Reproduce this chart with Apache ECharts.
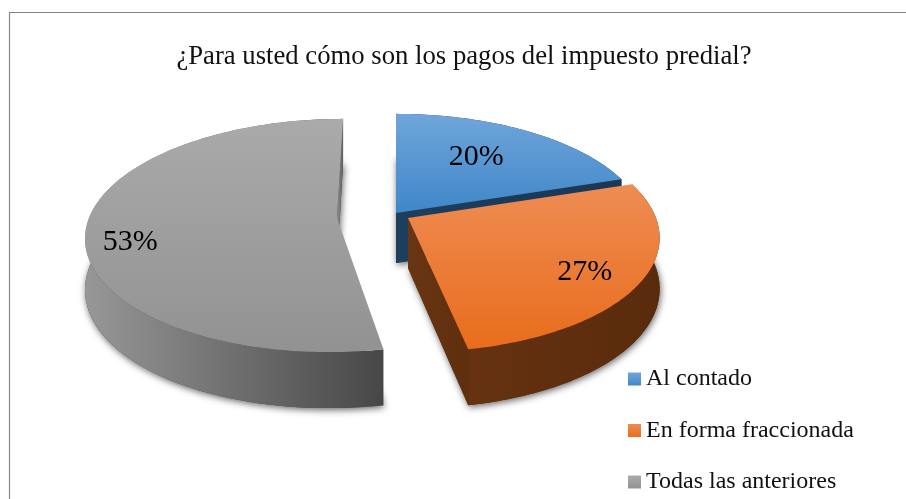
<!DOCTYPE html>
<html><head><meta charset="utf-8">
<style>html,body{margin:0;padding:0;background:#fff}#c{width:906px;height:499px}</style>
<script src="https://cdn.jsdelivr.net/npm/echarts@6/dist/echarts.min.js"></script>
</head><body><div id="c"></div>
<script>
const titleText = '¿Para usted cómo son los pagos del impuesto predial?';
const categories = ['Al contado', 'En forma fraccionada', 'Todas las anteriores'];
const values = [20, 27, 53];

// layout of the exploded slices and their styles (no data)
const apex = [[396, 213], [408, 218], [337, 218]];
const skew = [0, -5, 7];
const labelR = [0.59, 0.77, 0.825];
const labelDy = [-5, 7, 15];
const faceCols = [['#70a5da', '#3f87c9'], ['#ee8c54', '#e96c1b'], ['#aaaaaa', '#929292']];
const wallCols = [['#1b3a58', '#1b3a58'], ['#663211', '#592b0c'], ['#979797', '#474747']];
const innerCols = [['#1e3e5e', '#1a3853'], ['#6a3512', '#5f2f0e'], ['#8e8e8e', '#5e5e5e']];
const drawOrder = [0, 2, 1];
const RX = 248, RY = 114, PERSP = 0.15;

const total = values.reduce((a, b) => a + b, 0);
const starts = values.map((_, i) => values.slice(0, i).reduce((a, b) => a + b, 0) / total * Math.PI * 2);
const lin = (c, h) => new echarts.graphic.LinearGradient(0, 0, h ? 1 : 0, h ? 0 : 1, [{offset: 0, color: c[0]}, {offset: 1, color: c[1]}]);

function proj(i, ang, r, low) {
  const u = Math.sin(ang) * r, v = Math.cos(ang) * r, w = 1 + PERSP * v;
  const depth = low ? 50 - 6 * v : 0;
  return [apex[i][0] + (RX * u + skew[i] * v) / w, apex[i][1] - RY * v / w + depth];
}
function arc(i, a0, a1, low) {
  const n = Math.max(2, Math.round((a1 - a0) / (Math.PI / 180))), pts = [];
  for (let k = 0; k <= n; k++) pts.push(proj(i, a0 + (a1 - a0) * k / n, 1, low));
  return pts;
}
function renderSlice(i) {
  return function () {
    const a0 = starts[i], a1 = a0 + values[i] / total * Math.PI * 2;
    const top = arc(i, a0, a1, false), bot = arc(i, a0, a1, true);
    const C = proj(i, 0, 0, false), CL = proj(i, 0, 0, true);
    const poly = (points, fill, extra) => ({type: 'polygon', shape: {points}, style: Object.assign({fill}, extra || {})});
    const kids = [];
    kids.push(poly([CL].concat(bot), wallCols[i][1], {shadowBlur: 7, shadowOffsetX: 1, shadowOffsetY: 2, shadowColor: 'rgba(0,0,0,0.6)'}));
    kids.push(poly(top.concat(bot.slice().reverse()), lin(wallCols[i], true)));
    const e = top.length - 1; // the closing cut face is the one that looks at the viewer
    kids.push(poly([C, top[e], bot[e], CL], lin(innerCols[i], true)));
    kids.push(poly([C].concat(top), lin(faceCols[i], false)));
    const mid = (a0 + a1) / 2, L = proj(i, mid, labelR[i], false);
    kids.push({type: 'text', z2: 10, style: {
      x: L[0], y: L[1] + labelDy[i], text: values[i] + '%', align: 'center', verticalAlign: 'middle',
      fill: '#000', font: '30px "Liberation Serif"'
    }});
    return {type: 'group', children: kids};
  };
}

const chart = echarts.init(document.getElementById('c'), null, {renderer: 'canvas'});
chart.setOption({
  animation: false,
  backgroundColor: '#fff',
  title: {
    text: titleText, left: 459, top: 38, textAlign: 'center',
    textStyle: {fontFamily: 'Liberation Serif', fontWeight: 'normal', fontSize: 26.7, color: '#111'}
  },
  legend: {
    orient: 'vertical', left: 628, top: 366, padding: 0, itemWidth: 13, itemHeight: 13, itemGap: 25.5,
    icon: 'rect', selectedMode: false,
    data: categories.map((name, i) => ({name, itemStyle: {color: lin(faceCols[i], false)}})),
    textStyle: {fontFamily: 'Liberation Serif', fontSize: 24, lineHeight: 26, color: '#111'}
  },
  graphic: [{
    type: 'polyline', silent: true,
    shape: {points: [[9.5, 499], [9.5, 12.5], [906, 12.5]]},
    style: {stroke: '#868686', lineWidth: 1.2, fill: null}
  }],
  series: drawOrder.map(i => ({
    type: 'custom', name: categories[i], coordinateSystem: 'none',
    data: [values[i]], renderItem: renderSlice(i), silent: true,
    itemStyle: {color: faceCols[i][1]}
  }))
});
</script></body></html>
